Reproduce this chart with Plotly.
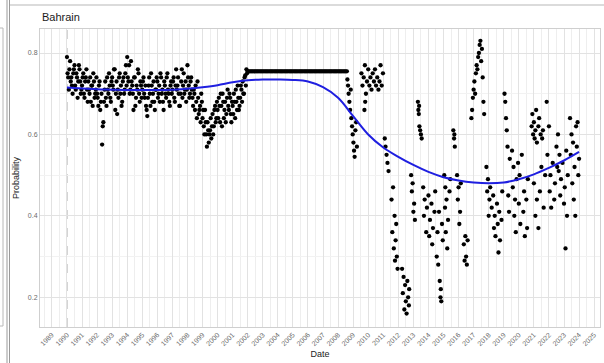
import plotly.graph_objects as go

# ---- data -------------------------------------------------------------
country = "Bahrain"

# early-month estimates, Jan 1990 - Dec 2001 (one row per year)
prob_1990_2001_a = [
    0.79, 0.74, 0.76, 0.73, 0.72, 0.75, 0.77, 0.71, 0.74, 0.73, 0.76, 0.70,
    0.72, 0.75, 0.69, 0.74, 0.71, 0.73, 0.70, 0.68, 0.72, 0.75, 0.69, 0.71,
    0.70, 0.67, 0.73, 0.68, 0.575, 0.63, 0.71, 0.69, 0.74, 0.70, 0.72, 0.68,
    0.74, 0.71, 0.76, 0.70, 0.65, 0.69, 0.75, 0.72, 0.68, 0.74, 0.71, 0.77,
    0.79, 0.73, 0.70, 0.78, 0.72, 0.66, 0.74, 0.69, 0.71, 0.75, 0.68, 0.72,
    0.71, 0.74, 0.69, 0.67, 0.645, 0.72, 0.70, 0.75, 0.68, 0.73, 0.66, 0.71,
    0.73, 0.70, 0.68, 0.74, 0.71, 0.66, 0.72, 0.69, 0.75, 0.70, 0.67, 0.73,
    0.71, 0.74, 0.68, 0.76, 0.72, 0.70, 0.67, 0.73, 0.69, 0.75, 0.71, 0.68,
    0.77, 0.72, 0.70, 0.74, 0.69, 0.71, 0.66, 0.68, 0.73, 0.65, 0.67, 0.70,
    0.64, 0.62, 0.66, 0.60, 0.63, 0.58, 0.61, 0.59, 0.65, 0.62, 0.67, 0.64,
    0.66, 0.69, 0.63, 0.67, 0.70, 0.64, 0.68, 0.65, 0.71, 0.66, 0.69, 0.63,
    0.67, 0.70, 0.64, 0.68, 0.72, 0.66, 0.69, 0.71, 0.73, 0.70, 0.745, 0.76,
]
# mid-month estimates, same months
prob_1990_2001_b = [
    0.75, 0.71, 0.78, 0.74, 0.70, 0.76, 0.72, 0.75, 0.69, 0.77, 0.73, 0.71,
    0.74, 0.70, 0.73, 0.76, 0.68, 0.71, 0.74, 0.72, 0.67, 0.73, 0.70, 0.74,
    0.69, 0.72, 0.66, 0.70, 0.62, 0.68, 0.73, 0.67, 0.71, 0.75, 0.69, 0.73,
    0.72, 0.76, 0.66, 0.73, 0.71, 0.74, 0.70, 0.67, 0.73, 0.70, 0.75, 0.72,
    0.74, 0.77, 0.71, 0.73, 0.70, 0.74, 0.67, 0.72, 0.76, 0.70, 0.73, 0.69,
    0.73, 0.70, 0.72, 0.66, 0.69, 0.74, 0.67, 0.72, 0.70, 0.68, 0.71, 0.74,
    0.69, 0.72, 0.75, 0.70, 0.68, 0.73, 0.70, 0.74, 0.71, 0.68, 0.72, 0.70,
    0.73, 0.69, 0.72, 0.71, 0.74, 0.67, 0.70, 0.76, 0.72, 0.70, 0.73, 0.71,
    0.74, 0.69, 0.73, 0.71, 0.67, 0.70, 0.72, 0.64, 0.69, 0.66, 0.63, 0.68,
    0.66, 0.60, 0.63, 0.57, 0.61, 0.60, 0.64, 0.62, 0.60, 0.66, 0.63, 0.68,
    0.64, 0.67, 0.70, 0.62, 0.68, 0.66, 0.63, 0.69, 0.67, 0.70, 0.65, 0.68,
    0.65, 0.68, 0.71, 0.66, 0.69, 0.67, 0.72, 0.68, 0.70, 0.74, 0.72, 0.75,
]
dates_1990_2001_a = [1990 + m / 12 for m in range(len(prob_1990_2001_a))]
dates_1990_2001_b = [1990 + (m + 0.5) / 12 for m in range(len(prob_1990_2001_b))]

# flat stretch, Jan 2002 - Aug 2008
plateau_prob = 0.755
plateau_dates = [2002 + m / 12 for m in range(80)]

# irregular observations from late 2008 on
dates_2008_2024 = [
    2008.62, 2008.66, 2008.70, 2008.75, 2008.80, 2008.84, 2008.88, 2008.93, 2008.97, 2009.02,
    2009.06, 2009.10, 2009.15, 2009.20, 2009.25,
    2009.55, 2009.62, 2009.70, 2009.78, 2009.85, 2009.92, 2010.00, 2010.08, 2010.15, 2010.22,
    2010.30, 2010.38, 2010.45, 2010.52, 2010.60, 2010.68, 2010.75, 2010.82, 2010.90, 2010.98,
    2009.75, 2009.80,
    2011.10, 2011.15, 2011.22, 2011.28, 2011.35, 2011.55, 2011.60, 2011.65, 2011.70, 2011.75,
    2011.78, 2011.82, 2011.86, 2011.90, 2011.95,
    2012.25, 2012.30, 2012.35, 2012.40, 2012.45, 2012.50, 2012.55, 2012.60, 2012.65, 2012.70,
    2012.72, 2012.85, 2012.90, 2012.95, 2013.00, 2013.05, 2013.10,
    2013.30, 2013.33, 2013.36, 2013.40, 2013.45, 2013.50, 2013.55, 2013.38,
    2013.65, 2013.70, 2013.75, 2013.85, 2013.90, 2014.00, 2014.05, 2014.10, 2014.20, 2014.25,
    2014.30, 2014.40, 2014.45,
    2014.55, 2014.60, 2014.65, 2014.70, 2014.75, 2014.80, 2014.82, 2014.85, 2014.90, 2014.95,
    2015.05, 2015.10, 2015.12, 2015.15, 2015.20, 2015.25, 2015.30, 2015.40, 2015.45,
    2015.65, 2015.70, 2015.75, 2015.72,
    2015.90, 2015.95, 2016.00, 2016.05, 2016.10, 2016.15, 2016.35, 2016.40, 2016.45, 2016.50,
    2016.55, 2016.60,
    2016.85, 2016.90, 2016.95, 2017.00, 2017.05, 2017.10, 2017.15, 2017.20, 2017.25, 2017.30,
    2017.35, 2017.40, 2017.45, 2017.50, 2017.55, 2017.60, 2017.65, 2017.70,
    2017.85, 2017.90, 2017.95, 2018.00, 2018.05, 2018.10, 2018.20, 2018.30, 2018.35, 2018.40,
    2018.45, 2018.55, 2018.60, 2018.65, 2018.70, 2018.75, 2018.85, 2018.90,
    2019.05, 2019.10, 2019.15, 2019.20, 2019.25, 2019.30, 2019.35, 2019.40,
    2019.55, 2019.60, 2019.65, 2019.70, 2019.75, 2019.80, 2019.85, 2019.95, 2020.00, 2020.05,
    2020.10, 2020.20, 2020.30, 2020.35, 2020.40, 2020.50, 2020.55, 2020.60,
    2020.85, 2020.90, 2020.95, 2021.00, 2021.05, 2021.10, 2021.15, 2021.20, 2021.30, 2021.35,
    2021.45, 2021.55, 2021.60, 2021.00, 2021.10, 2021.20, 2021.30, 2021.40, 2021.50, 2021.65,
    2021.75,
    2021.85, 2021.90, 2022.00, 2022.05, 2022.10, 2022.15, 2022.25, 2022.35, 2022.40, 2022.50,
    2022.55,
    2022.60, 2022.65, 2022.70, 2022.75, 2022.80, 2022.90, 2023.00, 2023.05, 2023.10, 2023.15,
    2023.20, 2023.25,
    2023.40, 2023.45, 2023.50, 2023.55, 2023.60, 2023.65, 2023.70, 2023.75, 2023.80, 2023.85,
    2023.90, 2023.95, 2024.00,
]
prob_2008_2024 = [
    0.735, 0.72, 0.70, 0.68, 0.66, 0.71, 0.64, 0.62, 0.60, 0.58,
    0.56, 0.545, 0.61, 0.63, 0.57,
    0.75, 0.72, 0.74, 0.77, 0.70, 0.73, 0.76, 0.72, 0.74, 0.71,
    0.75, 0.73, 0.76, 0.72, 0.74, 0.71, 0.73, 0.77, 0.72, 0.75,
    0.66, 0.68,
    0.59, 0.57, 0.55, 0.53, 0.51, 0.44, 0.36, 0.47, 0.32, 0.40,
    0.29, 0.34, 0.38, 0.30, 0.27,
    0.27, 0.21, 0.25, 0.17, 0.23, 0.19, 0.16, 0.24, 0.20, 0.18,
    0.22, 0.50, 0.46, 0.48, 0.41, 0.43, 0.39,
    0.68, 0.66, 0.65, 0.62, 0.61, 0.60, 0.59, 0.67,
    0.47, 0.40, 0.44, 0.36, 0.42, 0.45, 0.35, 0.39, 0.43, 0.33,
    0.37, 0.41, 0.46,
    0.30, 0.36, 0.28, 0.41, 0.24, 0.20, 0.22, 0.19, 0.38, 0.34,
    0.50, 0.42, 0.47, 0.36, 0.44, 0.32, 0.39, 0.46, 0.49,
    0.61, 0.59, 0.57, 0.60,
    0.50, 0.44, 0.47, 0.38, 0.41, 0.48, 0.33, 0.29, 0.35, 0.30,
    0.28, 0.34,
    0.64, 0.66, 0.69, 0.71, 0.73, 0.70, 0.75, 0.77, 0.76, 0.79,
    0.80, 0.82, 0.83, 0.78, 0.81, 0.74, 0.68, 0.65,
    0.52, 0.46, 0.49, 0.40, 0.44, 0.47, 0.42, 0.45, 0.37, 0.40,
    0.35, 0.43, 0.38, 0.31, 0.41, 0.34, 0.39, 0.46,
    0.70, 0.68, 0.64, 0.61, 0.57, 0.45, 0.41, 0.54,
    0.56, 0.47, 0.52, 0.40, 0.44, 0.36, 0.49, 0.53, 0.43, 0.50,
    0.38, 0.55, 0.41, 0.46, 0.35, 0.44, 0.37, 0.49,
    0.62, 0.65, 0.60, 0.63, 0.59, 0.61, 0.66, 0.58, 0.62, 0.64,
    0.60, 0.59, 0.61, 0.48, 0.40, 0.44, 0.37, 0.46, 0.52, 0.42,
    0.50,
    0.68, 0.55, 0.62, 0.46, 0.50, 0.42, 0.53, 0.44, 0.48, 0.57,
    0.52,
    0.60, 0.51, 0.55, 0.45, 0.49, 0.53, 0.43, 0.47, 0.32, 0.56,
    0.40, 0.50,
    0.64, 0.55, 0.60, 0.48, 0.58, 0.44, 0.52, 0.40, 0.62, 0.57,
    0.63, 0.50, 0.54,
]

# smoothed trend, read at whole years
trend_years = list(range(1990, 2025))
trend_prob = [
    0.715, 0.713, 0.711, 0.710, 0.709, 0.709, 0.709, 0.710, 0.712, 0.716,
    0.721, 0.728, 0.733, 0.735, 0.735, 0.734, 0.730, 0.716, 0.690, 0.645,
    0.600, 0.568, 0.545, 0.525, 0.508, 0.495, 0.487, 0.482, 0.480, 0.482,
    0.490, 0.502, 0.518, 0.536, 0.557,
]

year_ticks = list(range(1989, 2026))
prob_ticks = [0.2, 0.4, 0.6, 0.8]

# ---- figure -----------------------------------------------------------
FONT = "Liberation Sans, Arial, sans-serif"
W, H = 604, 363
L, R, T, B = 40, 4, 29, 36

dates = dates_1990_2001_a + dates_1990_2001_b + plateau_dates + dates_2008_2024
probs = (prob_1990_2001_a + prob_1990_2001_b
         + [plateau_prob] * len(plateau_dates) + prob_2008_2024)

fig = go.Figure()
fig.add_trace(go.Scatter(
    x=dates, y=probs, mode="markers",
    marker=dict(color="black", size=4.3, line=dict(width=0)),
    hoverinfo="skip", showlegend=False,
))
fig.add_trace(go.Scatter(
    x=trend_years, y=trend_prob, mode="lines",
    line=dict(color="#1f1fe0", width=2, shape="spline", smoothing=1.0),
    hoverinfo="skip", showlegend=False,
))


def px(x):
    return (x - L) / (W - L - R)


def py(y):
    return (H - B - y) / (H - T - B)


grey = "#b8b8b8"
shapes = [
    # dashed reference line at 1990
    dict(type="line", xref="x", yref="paper", x0=1990, x1=1990, y0=0, y1=1,
         line=dict(color="#a0a0a0", width=1, dash="dash"), layer="below"),
    # outer frame pieces
    dict(type="line", xref="paper", yref="paper", x0=px(9), x1=px(604), y0=py(5), y1=py(5),
         line=dict(color=grey, width=1.2)),
    dict(type="line", xref="paper", yref="paper", x0=px(7), x1=px(7), y0=py(0), y1=py(363),
         line=dict(color="#9a9a9a", width=1)),
    dict(type="line", xref="paper", yref="paper", x0=px(9.5), x1=px(9.5), y0=py(0), y1=py(363),
         line=dict(color="#9a9a9a", width=1)),
    dict(type="line", xref="paper", yref="paper", x0=px(3), x1=px(3), y0=py(28), y1=py(326),
         line=dict(color=grey, width=1)),
    dict(type="line", xref="paper", yref="paper", x0=px(0), x1=px(3), y0=py(28), y1=py(28),
         line=dict(color=grey, width=1)),
    dict(type="line", xref="paper", yref="paper", x0=px(0), x1=px(3), y0=py(326), y1=py(326),
         line=dict(color=grey, width=1)),
]

fig.update_layout(
    width=W, height=H,
    margin=dict(l=L, r=R, t=T, b=B, pad=0),
    paper_bgcolor="white", plot_bgcolor="white",
    font=dict(family=FONT, color="#222222"),
    shapes=shapes,
    annotations=[
        dict(text=country, xref="paper", yref="paper", x=0, y=py(17), xanchor="left",
             yanchor="middle", showarrow=False, font=dict(size=11, color="#1a1a1a")),
    ],
    xaxis=dict(
        range=[1988.21, 2025.39], tickvals=year_ticks, ticktext=[str(y) for y in year_ticks],
        tickangle=-45, tickfont=dict(size=7, color="#6a6a6a"), ticks="", ticklen=0,
        showgrid=True, gridcolor="#e2e2e2", gridwidth=0.7,
        minor=dict(dtick=0.5, tick0=1989, showgrid=True, gridcolor="#eeeeee", gridwidth=0.6),
        zeroline=False, showline=True, linecolor="#cfcfcf", linewidth=1, mirror=True,
        title=dict(text="Date", font=dict(size=9, color="#222222"), standoff=4),
    ),
    yaxis=dict(
        range=[0.127, 0.859], tickvals=prob_ticks, ticktext=["0.2", "0.4", "0.6", "0.8"],
        tickfont=dict(size=7, color="#6a6a6a"), ticks="", ticklen=0,
        showgrid=True, gridcolor="#e2e2e2", gridwidth=0.7,
        minor=dict(dtick=0.1, tick0=0.1, showgrid=True, gridcolor="#f2f2f2", gridwidth=0.6),
        zeroline=False, showline=True, linecolor="#cfcfcf", linewidth=1, mirror=True,
        title=dict(text="Probability", font=dict(size=9, color="#222222"), standoff=6),
    ),
)

fig.write_html("out.html")
